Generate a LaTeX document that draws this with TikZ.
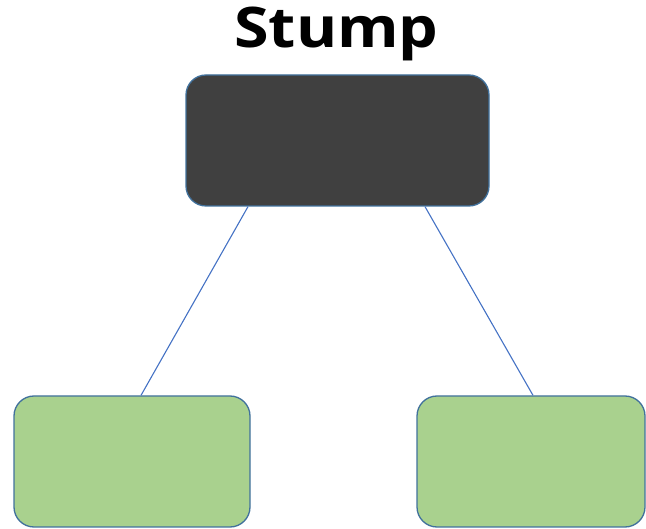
\documentclass[tikz,border=0pt]{standalone}
\usepackage{fontspec}
\setmainfont{Open Sans}
\usetikzlibrary{positioning}
\definecolor{darkbox}{HTML}{404040}
\definecolor{leafgreen}{HTML}{A9D18E}
\definecolor{boxedge}{HTML}{41719C}
\definecolor{linkblue}{HTML}{4472C4}
\begin{document}
\begin{tikzpicture}[
    x=1pt, y=-1pt,
    box/.style={rectangle, draw=boxedge, line width=1.3pt, rounded corners=20pt,
                minimum height=131pt, inner sep=0pt},
    rootbox/.style={box, fill=darkbox, minimum width=303pt},
    leafbox/.style={box, fill=leafgreen},
    link/.style={draw=linkblue, line width=1.1pt},
    ttl/.style={font=\fontsize{56}{60}\selectfont\bfseries, inner sep=0pt},
  ]
  \useasboundingbox (0,0) rectangle (646,529);
  \node[ttl, anchor=base] (title) at (336.5,48) {\scalebox{1.12}[1]{Stump}};
  \node[rootbox] (root) at (337.5,140.5) {};
  \node[leafbox, minimum width=236pt] (lleaf) at (132,461.5) {};
  \node[leafbox, minimum width=228pt] (rleaf) at (531,461.5) {};
  \draw[link] ([xshift=-89.5pt]root.south) -- ([xshift=9pt]lleaf.north);
  \draw[link] ([xshift=87.5pt]root.south) -- ([xshift=2pt]rleaf.north);
\end{tikzpicture}
\end{document}
